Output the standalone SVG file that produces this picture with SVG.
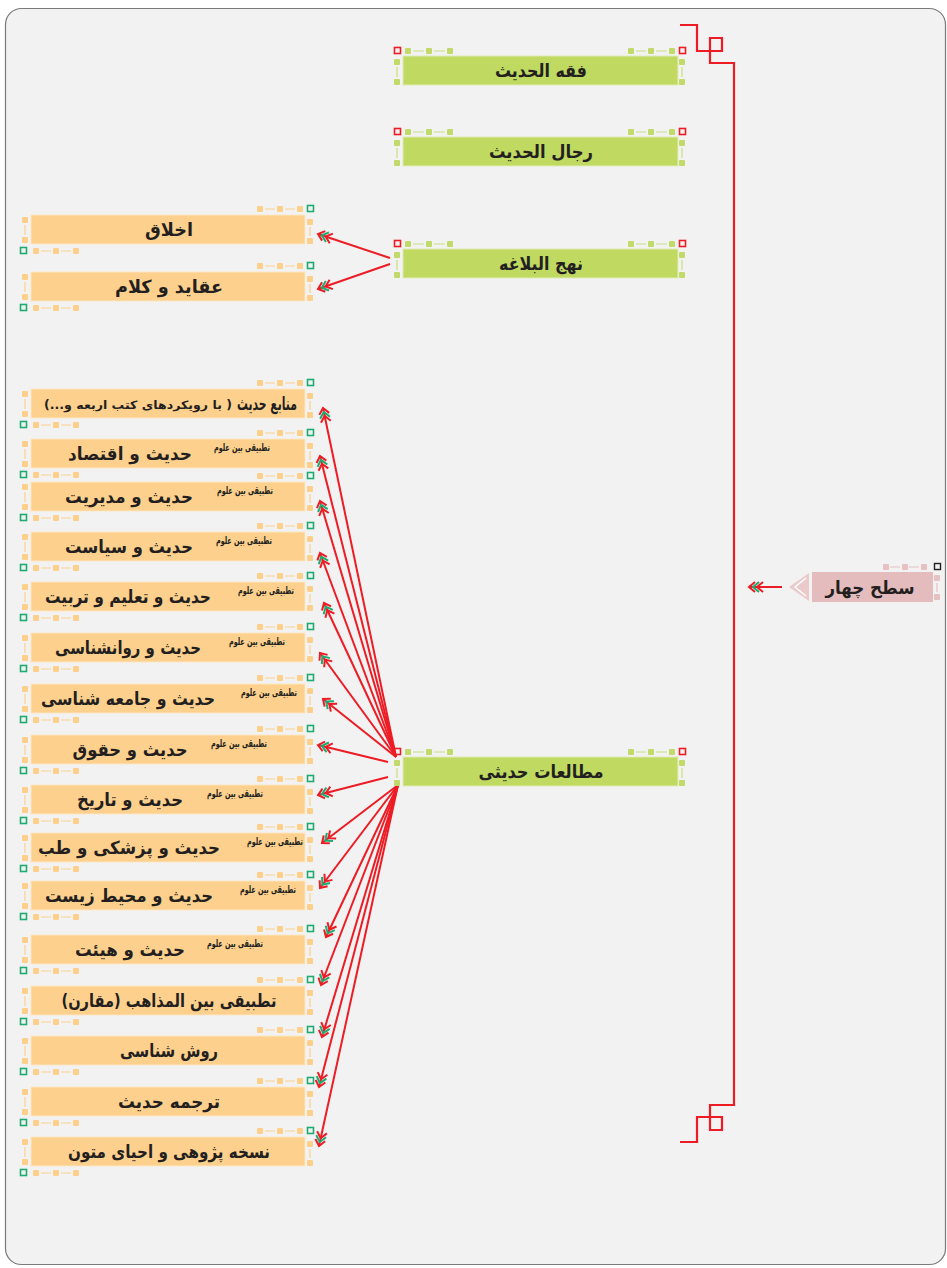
<svg xmlns="http://www.w3.org/2000/svg" xmlns:xlink="http://www.w3.org/1999/xlink" width="947" height="1268" viewBox="0 0 947 1268">
<style>
.bg{fill:#f2f2f2;stroke:#7a7a7a;stroke-width:1.2}
.nO{fill:#fdd18d;stroke:#fde5c2;stroke-width:1}
.nG{fill:#bfd961;stroke:#e0ebb5;stroke-width:1}
.nP{fill:#e4bcbd}
.t{font-family:"DejaVu Sans","Noto Sans",sans-serif;font-weight:bold;fill:#231f20;text-anchor:middle;direction:rtl}
.m{font-size:18px}
.s{font-size:10.5px}
.x{font-size:11.5px}
.c{stroke:#ed1c24;stroke-width:2;fill:none}
.br{stroke:#ed1c24;stroke-width:2.2;fill:none}
.ho{fill:#fcd08b}
.hod{stroke:#fcd08b;stroke-width:1.2;fill:none}
.hg{fill:#c2da6a}
.hgd{stroke:#c9df80;stroke-width:1.2;fill:none}
.hgo{fill:none;stroke:#1faa72;stroke-width:1.6}
.hro{fill:none;stroke:#ed1c24;stroke-width:1.6}
.hp{fill:#e6c1c2}
.hpd{stroke:#e6c1c2;stroke-width:1.2;fill:none}
</style>
<defs>
<marker id="arr" markerUnits="userSpaceOnUse" markerWidth="22" markerHeight="16" viewBox="-18 -8 22 16" refX="0" refY="0" orient="auto" overflow="visible">
<polyline points="-14,-5 -8,0 -14,5" fill="none" stroke="#ed1c24" stroke-width="2"/>
<polyline points="-10,-5 -4,0 -10,5" fill="none" stroke="#1faa72" stroke-width="2"/>
<polyline points="-6,-5 0,0 -6,5" fill="none" stroke="#ed1c24" stroke-width="2"/>
</marker>
<g id="hO">
<rect class="ho" x="226" y="-9" width="6" height="6" rx="1"/>
<rect class="ho" x="246" y="-9" width="6" height="6" rx="1"/>
<rect class="ho" x="266" y="-9" width="6" height="6" rx="1"/>
<path class="hod" d="M234 -6H244M254 -6H264"/>
<rect class="ho" x="276" y="4" width="6" height="6" rx="1"/>
<rect class="ho" x="276" y="23" width="6" height="6" rx="1"/>
<path class="hod" d="M279 12V21"/>
<rect class="ho" x="-9" y="2" width="6" height="6" rx="1"/>
<rect class="ho" x="-9" y="22" width="6" height="6" rx="1"/>
<path class="hod" d="M-6 10V20"/>
<rect class="ho" x="2" y="33" width="6" height="6" rx="1"/>
<rect class="ho" x="22" y="33" width="6" height="6" rx="1"/>
<rect class="ho" x="42" y="33" width="6" height="6" rx="1"/>
<path class="hod" d="M10 36H20M30 36H40"/>
<rect class="hgo" x="276.5" y="-9.5" width="6" height="6"/>
<rect class="hgo" x="-10.5" y="32.5" width="6" height="6"/>
</g>
<g id="hG">
<rect class="hro" x="-8.5" y="-8.5" width="6" height="6"/>
<rect class="hro" x="276.5" y="-8.5" width="6" height="6"/>
<rect class="hg" x="2" y="-8" width="6" height="6" rx="1"/>
<rect class="hg" x="23" y="-8" width="6" height="6" rx="1"/>
<rect class="hg" x="44" y="-8" width="6" height="6" rx="1"/>
<rect class="hg" x="225" y="-8" width="6" height="6" rx="1"/>
<rect class="hg" x="245" y="-8" width="6" height="6" rx="1"/>
<rect class="hg" x="266" y="-8" width="6" height="6" rx="1"/>
<path class="hgd" d="M10 -5H21M31 -5H42M233 -5H243M253 -5H264"/>
<rect class="hg" x="-9" y="3" width="6" height="6" rx="1"/>
<rect class="hg" x="-9" y="23" width="6" height="6" rx="1"/>
<rect class="hg" x="276" y="3" width="6" height="6" rx="1"/>
<rect class="hg" x="276" y="23" width="6" height="6" rx="1"/>
<path class="hgd" d="M-6 11V21M279 11V21"/>
</g>
</defs>

<rect class="bg" x="5.5" y="8.5" width="940" height="1256" rx="16"/>

<g id="bracket">
<path class="br" d="M680 25H697V51H722V38H710V63H734V1105H710V1130H722V1117H697V1142H680"/>
</g>

<g id="connectors">
<line class="c" x1="782" y1="587" x2="749" y2="587" marker-end="url(#arr)"/>
<line class="c" x1="390" y1="258" x2="318" y2="234" marker-end="url(#arr)"/>
<line class="c" x1="390" y1="264" x2="318" y2="289" marker-end="url(#arr)"/>
<line class="c" x1="396" y1="757" x2="323" y2="408" marker-end="url(#arr)"/>
<line class="c" x1="396" y1="757" x2="320" y2="456" marker-end="url(#arr)"/>
<line class="c" x1="396" y1="757" x2="320" y2="501" marker-end="url(#arr)"/>
<line class="c" x1="396" y1="757" x2="320" y2="553" marker-end="url(#arr)"/>
<line class="c" x1="396" y1="757" x2="324" y2="603" marker-end="url(#arr)"/>
<line class="c" x1="396" y1="757" x2="320" y2="653" marker-end="url(#arr)"/>
<line class="c" x1="396" y1="757" x2="323" y2="699" marker-end="url(#arr)"/>
<line class="c" x1="388" y1="762" x2="318" y2="745" marker-end="url(#arr)"/>
<line class="c" x1="388" y1="777" x2="318" y2="795" marker-end="url(#arr)"/>
<line class="c" x1="398" y1="785" x2="322" y2="843" marker-end="url(#arr)"/>
<line class="c" x1="398" y1="785" x2="320" y2="888" marker-end="url(#arr)"/>
<line class="c" x1="398" y1="785" x2="326" y2="937" marker-end="url(#arr)"/>
<line class="c" x1="398" y1="785" x2="321" y2="985" marker-end="url(#arr)"/>
<line class="c" x1="398" y1="785" x2="322" y2="1037" marker-end="url(#arr)"/>
<line class="c" x1="398" y1="785" x2="319" y2="1087" marker-end="url(#arr)"/>
<line class="c" x1="398" y1="785" x2="319" y2="1146" marker-end="url(#arr)"/>
</g>

<g id="n-level4">
<polygon points="809,573 789,587 809,601" fill="#ecc9ca"/>
<polyline points="806,578 795,587 806,596" fill="none" stroke="#ffffff" stroke-width="1.5"/>
<rect class="nP" x="812" y="572" width="121" height="30"/>
<rect class="hp" x="883" y="564" width="6" height="6" rx="1"/>
<rect class="hp" x="902" y="564" width="6" height="6" rx="1"/>
<rect class="hp" x="921" y="564" width="6" height="6" rx="1"/>
<path class="hpd" d="M890 567H900M909 567H919"/>
<rect class="hp" x="934" y="575" width="6" height="6" rx="1"/>
<rect class="hp" x="934" y="594" width="6" height="6" rx="1"/>
<path class="hpd" d="M937 583V592"/>
<rect x="934.5" y="563.5" width="6" height="6" fill="none" stroke="#222" stroke-width="1.4"/>
<text class="t m" x="870" y="594" textLength="89" lengthAdjust="spacingAndGlyphs">سطح چهار</text>
</g>

<g id="n-feqh" transform="translate(403,56)">
<rect class="nG" x="0" y="0" width="275" height="29"/><use href="#hG"/>
<text class="t m" x="138" y="21" textLength="92" lengthAdjust="spacingAndGlyphs">فقه الحدیث</text>
</g>
<g id="n-rejal" transform="translate(403,137)">
<rect class="nG" x="0" y="0" width="275" height="29"/><use href="#hG"/>
<text class="t m" x="138" y="21" textLength="104" lengthAdjust="spacingAndGlyphs">رجال الحدیث</text>
</g>
<g id="n-nahj" transform="translate(403,249)">
<rect class="nG" x="0" y="0" width="275" height="29"/><use href="#hG"/>
<text class="t m" x="138" y="21" textLength="84" lengthAdjust="spacingAndGlyphs">نهج البلاغه</text>
</g>
<g id="n-motaleat" transform="translate(403,757)">
<rect class="nG" x="0" y="0" width="275" height="29"/><use href="#hG"/>
<text class="t m" x="138" y="21" textLength="125" lengthAdjust="spacingAndGlyphs">مطالعات حدیثی</text>
</g>

<g id="n-akhlagh" transform="translate(31,215)">
<rect class="nO" x="0" y="0" width="274" height="29"/><use href="#hO"/>
<text class="t m" x="138" y="21" textLength="48" lengthAdjust="spacingAndGlyphs">اخلاق</text>
</g>
<g id="n-aghayed" transform="translate(31,272)">
<rect class="nO" x="0" y="0" width="274" height="29"/><use href="#hO"/>
<text class="t m" x="138" y="21" textLength="108" lengthAdjust="spacingAndGlyphs">عقاید و کلام</text>
</g>
<g id="n-manabe" transform="translate(31,389)">
<rect class="nO" x="0" y="0" width="274" height="29"/><use href="#hO"/>
<text class="t m" x="236" y="21" textLength="60" lengthAdjust="spacingAndGlyphs">منابع حدیث</text>
<text class="t x" x="107" y="20" textLength="188" lengthAdjust="spacingAndGlyphs">( با رویکردهای کتب اربعه و...)</text>
</g>
<g id="n-eghtesad" transform="translate(31,439)">
<rect class="nO" x="0" y="0" width="274" height="29"/><use href="#hO"/>
<text class="t s" x="211" y="12" textLength="56" lengthAdjust="spacingAndGlyphs">تطبیقی بین علوم</text>
<text class="t m" x="99" y="21" textLength="124" lengthAdjust="spacingAndGlyphs">حدیث و اقتصاد</text>
</g>
<g id="n-modiriat" transform="translate(31,482)">
<rect class="nO" x="0" y="0" width="274" height="29"/><use href="#hO"/>
<text class="t s" x="214" y="12" textLength="56" lengthAdjust="spacingAndGlyphs">تطبیقی بین علوم</text>
<text class="t m" x="98" y="21" textLength="128" lengthAdjust="spacingAndGlyphs">حدیث و مدیریت</text>
</g>
<g id="n-siasat" transform="translate(31,532)">
<rect class="nO" x="0" y="0" width="274" height="29"/><use href="#hO"/>
<text class="t s" x="213" y="12" textLength="56" lengthAdjust="spacingAndGlyphs">تطبیقی بین علوم</text>
<text class="t m" x="98" y="21" textLength="128" lengthAdjust="spacingAndGlyphs">حدیث و سیاست</text>
</g>
<g id="n-talim" transform="translate(31,582)">
<rect class="nO" x="0" y="0" width="274" height="29"/><use href="#hO"/>
<text class="t s" x="235" y="12" textLength="56" lengthAdjust="spacingAndGlyphs">تطبیقی بین علوم</text>
<text class="t m" x="97" y="21" textLength="166" lengthAdjust="spacingAndGlyphs">حدیث و تعلیم و تربیت</text>
</g>
<g id="n-ravan" transform="translate(31,633)">
<rect class="nO" x="0" y="0" width="274" height="29"/><use href="#hO"/>
<text class="t s" x="226" y="12" textLength="56" lengthAdjust="spacingAndGlyphs">تطبیقی بین علوم</text>
<text class="t m" x="97" y="21" textLength="146" lengthAdjust="spacingAndGlyphs">حدیث و روانشناسی</text>
</g>
<g id="n-jameh" transform="translate(31,684)">
<rect class="nO" x="0" y="0" width="274" height="29"/><use href="#hO"/>
<text class="t s" x="238" y="12" textLength="56" lengthAdjust="spacingAndGlyphs">تطبیقی بین علوم</text>
<text class="t m" x="97" y="21" textLength="174" lengthAdjust="spacingAndGlyphs">حدیث و جامعه شناسی</text>
</g>
<g id="n-hoghugh" transform="translate(31,735)">
<rect class="nO" x="0" y="0" width="274" height="29"/><use href="#hO"/>
<text class="t s" x="208" y="12" textLength="56" lengthAdjust="spacingAndGlyphs">تطبیقی بین علوم</text>
<text class="t m" x="99" y="21" textLength="115" lengthAdjust="spacingAndGlyphs">حدیث و حقوق</text>
</g>
<g id="n-tarikh" transform="translate(31,785)">
<rect class="nO" x="0" y="0" width="274" height="29"/><use href="#hO"/>
<text class="t s" x="204" y="12" textLength="56" lengthAdjust="spacingAndGlyphs">تطبیقی بین علوم</text>
<text class="t m" x="99" y="21" textLength="106" lengthAdjust="spacingAndGlyphs">حدیث و تاریخ</text>
</g>
<g id="n-pezeshki" transform="translate(31,833)">
<rect class="nO" x="0" y="0" width="274" height="29"/><use href="#hO"/>
<text class="t s" x="244" y="12" textLength="56" lengthAdjust="spacingAndGlyphs">تطبیقی بین علوم</text>
<text class="t m" x="98" y="21" textLength="182" lengthAdjust="spacingAndGlyphs">حدیث و پزشکی و طب</text>
</g>
<g id="n-mohit" transform="translate(31,881)">
<rect class="nO" x="0" y="0" width="274" height="29"/><use href="#hO"/>
<text class="t s" x="237" y="12" textLength="56" lengthAdjust="spacingAndGlyphs">تطبیقی بین علوم</text>
<text class="t m" x="98" y="21" textLength="168" lengthAdjust="spacingAndGlyphs">حدیث و محیط زیست</text>
</g>
<g id="n-hey-at" transform="translate(31,935)">
<rect class="nO" x="0" y="0" width="274" height="29"/><use href="#hO"/>
<text class="t s" x="204" y="12" textLength="56" lengthAdjust="spacingAndGlyphs">تطبیقی بین علوم</text>
<text class="t m" x="99" y="21" textLength="110" lengthAdjust="spacingAndGlyphs">حدیث و هیئت</text>
</g>
<g id="n-moghaaren" transform="translate(31,986)">
<rect class="nO" x="0" y="0" width="274" height="29"/><use href="#hO"/>
<text class="t m" x="138" y="21" textLength="215" lengthAdjust="spacingAndGlyphs">تطبیقی بین المذاهب (مقارن)</text>
</g>
<g id="n-ravesh" transform="translate(31,1036)">
<rect class="nO" x="0" y="0" width="274" height="29"/><use href="#hO"/>
<text class="t m" x="138" y="21" textLength="98" lengthAdjust="spacingAndGlyphs">روش شناسی</text>
</g>
<g id="n-tarjomeh" transform="translate(31,1087)">
<rect class="nO" x="0" y="0" width="274" height="29"/><use href="#hO"/>
<text class="t m" x="138" y="21" textLength="102" lengthAdjust="spacingAndGlyphs">ترجمه حدیث</text>
</g>
<g id="n-noskheh" transform="translate(31,1137)">
<rect class="nO" x="0" y="0" width="274" height="29"/><use href="#hO"/>
<text class="t m" x="138" y="21" textLength="202" lengthAdjust="spacingAndGlyphs">نسخه پژوهی و احیای متون</text>
</g>
</svg>
